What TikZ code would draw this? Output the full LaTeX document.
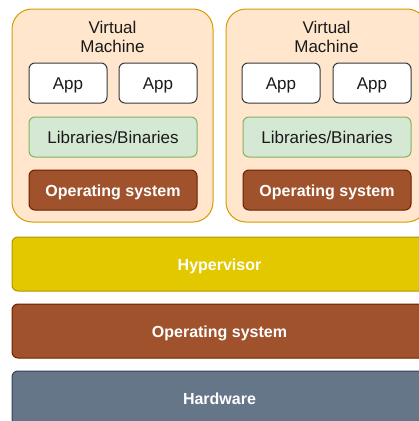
\documentclass[tikz,border=0pt]{standalone}
\usepackage{fontspec}
\setmainfont{Liberation Sans}
\begin{document}
\begin{tikzpicture}[x=1pt,y=-1pt,
  box/.style={rectangle, inner sep=0pt, line width=1pt, text height=15pt, text depth=3pt, font=\fontsize{17}{19}\selectfont},
  vmbox/.style={box, fill=vmfill, draw=vmline, rounded corners=20pt, minimum width=201pt, minimum height=213pt},
  appbox/.style={box, fill=white, draw=appline, rounded corners=6pt, minimum width=78pt, minimum height=40pt, text=textgray},
  libbox/.style={box, fill=libfill, draw=libline, rounded corners=6pt, minimum width=168pt, minimum height=40pt, text=textgray},
  osbox/.style={box, fill=osfill, draw=osline, rounded corners=6pt, minimum width=168pt, minimum height=40pt, text=white, font=\fontsize{16}{19}\selectfont\bfseries},
  bar/.style={box, rounded corners=6pt, minimum width=415pt, minimum height=54pt, text=white, font=\fontsize{16}{19}\selectfont\bfseries},
  title/.style={align=center, inner sep=0pt, text=textgray, font=\fontsize{17}{19}\selectfont}
]
\definecolor{vmfill}{HTML}{FFE6CC}
\definecolor{vmline}{HTML}{D79B00}
\definecolor{appline}{HTML}{36393D}
\definecolor{libfill}{HTML}{D5E8D4}
\definecolor{libline}{HTML}{82B366}
\definecolor{osfill}{HTML}{A0522D}
\definecolor{osline}{HTML}{6D1F00}
\definecolor{hypfill}{HTML}{E3C800}
\definecolor{hypline}{HTML}{B09500}
\definecolor{hwfill}{HTML}{647687}
\definecolor{hwline}{HTML}{314354}
\definecolor{textgray}{HTML}{1A1A1A}

\useasboundingbox (0,0) rectangle (419,421);
\clip (0,0) rectangle (419,421);

% first virtual machine
\node[vmbox] (vm1) at (112.5,115.5) {};
\node[title] (vm1title) at (112.5,37) {Virtual\\Machine};
\node[appbox] (vm1appa) at (68,83) {App};
\node[appbox] (vm1appb) at (158,83) {App};
\node[libbox] (vm1lib) at (113,137) {Libraries/Binaries};
\node[osbox] (vm1os) at (113,190) {Operating system};

% second virtual machine
\node[vmbox] (vm2) at (326.5,115.5) {};
\node[title] (vm2title) at (326.5,37) {Virtual\\Machine};
\node[appbox] (vm2appa) at (281,83) {App};
\node[appbox] (vm2appb) at (372,83) {App};
\node[libbox] (vm2lib) at (327,137) {Libraries/Binaries};
\node[osbox] (vm2os) at (327,190) {Operating system};

% host layers
\node[bar, fill=hypfill, draw=hypline] (hyp) at (219.5,264) {Hypervisor};
\node[bar, fill=osfill, draw=osline] (hostos) at (219.5,331) {Operating system};
\node[bar, fill=hwfill, draw=hwline] (hw) at (219.5,398) {Hardware};
\end{tikzpicture}
\end{document}
